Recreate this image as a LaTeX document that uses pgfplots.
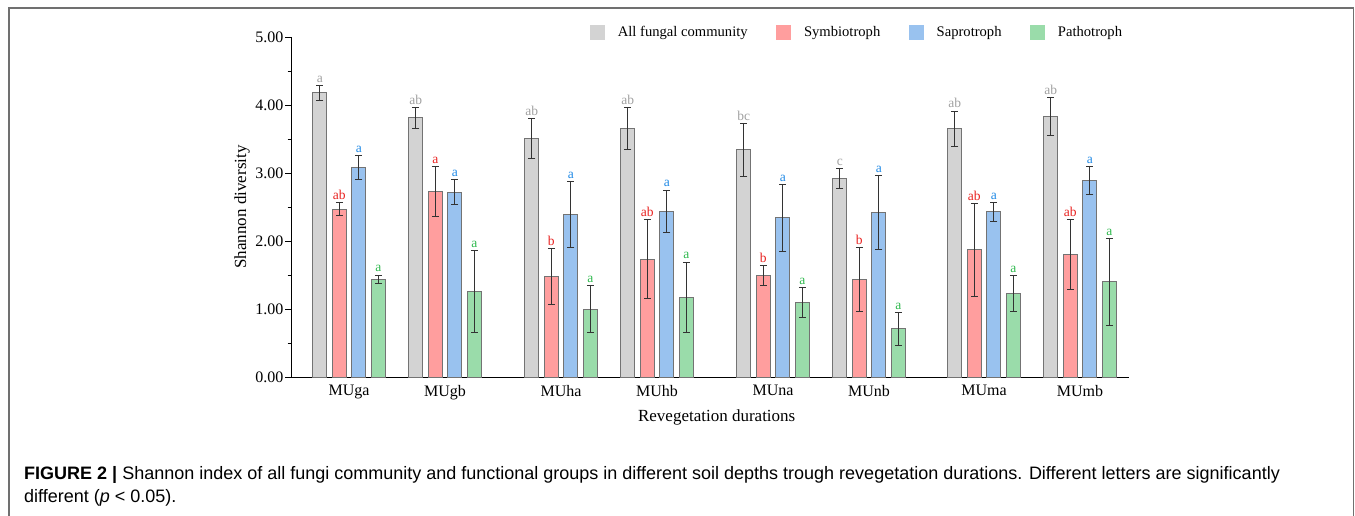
\documentclass[border=0pt]{standalone}
\usepackage{fontspec}
\setmainfont{Liberation Serif}
\newfontfamily\capfont{Liberation Sans}
\usepackage{pgfplots}
\usepackage{pgfplotstable}
\pgfplotsset{compat=1.18}
\definecolor{cgray}{HTML}{D3D3D3}
\definecolor{cred}{HTML}{FF9E9E}
\definecolor{cblue}{HTML}{99C2EF}
\definecolor{cgreen}{HTML}{9ADCAA}
\definecolor{tgray}{HTML}{A0A0A0}
\definecolor{tred}{HTML}{E8201E}
\definecolor{tblue}{HTML}{1E88E5}
\definecolor{tgreen}{HTML}{2DB84C}
\definecolor{framec}{HTML}{707070}

\pgfplotstableread{
x y e lab
349 4.18 0.11 a
445 3.81 0.15 ab
561 3.51 0.29 ab
657 3.65 0.31 ab
773 3.34 0.39 bc
869 2.92 0.15 c
984 3.65 0.26 ab
1080 3.83 0.28 ab
}\allfungal
\pgfplotstableread{
x y e lab
349 2.47 0.09 ab
445 2.73 0.37 a
561 1.48 0.41 b
657 1.73 0.58 ab
773 1.49 0.15 b
869 1.43 0.47 b
984 1.87 0.68 ab
1080 1.80 0.51 ab
}\symbio
\pgfplotstableread{
x y e lab
349 3.08 0.18 a
445 2.72 0.18 a
561 2.39 0.48 a
657 2.44 0.31 a
773 2.34 0.49 a
869 2.42 0.54 a
984 2.43 0.14 a
1080 2.89 0.21 a
}\sapro
\pgfplotstableread{
x y e lab
349 1.44 0.06 a
445 1.26 0.60 a
561 1.00 0.35 a
657 1.17 0.52 a
773 1.09 0.22 a
869 0.71 0.24 a
984 1.23 0.26 a
1080 1.40 0.64 a
}\patho

\pgfplotsset{
  letters/.style={
    nodes near coords, point meta=explicit symbolic,
    visualization depends on={\thisrow{e} \as \err},
    nodes near coords style={anchor=south, inner sep=0pt, yshift={\err*68pt+2.5pt}, text=#1, font=\fontsize{13.5}{15}\selectfont}
  }
}

\begin{document}
\begin{tikzpicture}[x=1pt,y=1pt]
\useasboundingbox (0,0) rectangle (1355,515);
\draw[color=framec, line width=1.5pt] (9,-2) -- (9,507) -- (1353.5,507) -- (1353.5,-2);
\begin{axis}[
  at={(291pt,138pt)}, anchor=south west,
  width=838pt, height=340pt, scale only axis,
  xmin=291, xmax=1129, ymin=0, ymax=5,
  ybar, bar width=14pt,
  axis lines*=left,
  axis line style={line width=1pt},
  clip=false,
  xtick={349,445,561,657,773,869,984,1080},
  xticklabels={MUga,MUgb,MUha,MUhb,MUna,MUnb,MUma,MUmb},
  xtick style={draw=none},
  ytick={0,1,2,3,4,5},
  minor y tick num=1,
  tick align=outside,
  major tick length=6pt,
  minor tick length=3.5pt,
  ytick style={line width=1pt, black},
  yticklabel style={/pgf/number format/fixed, /pgf/number format/fixed zerofill, /pgf/number format/precision=2, /pgf/number format/assume math mode=true, inner sep=1.5pt},
  ticklabel style={font=\fontsize{16}{19}\selectfont},
  xticklabel style={inner sep=0pt, yshift=-2pt},
  ylabel={Shannon diversity},
  xlabel={Revegetation durations},
  every axis y label/.style={at={(axis description cs:-0.0585,0.5)}, rotate=90, anchor=center, font=\fontsize{17}{20}\selectfont},
  every axis x label/.style={at={(axis description cs:0.508,-0.1176)}, anchor=center, font=\fontsize{17}{20}\selectfont},
  legend style={at={(axis description cs:0.3568,1.0147)}, anchor=west, draw=none, fill=none, inner sep=0pt, outer sep=0pt,
    legend columns=-1, font=\fontsize{14.6}{17}\selectfont,
    nodes={inner sep=0pt, outer sep=0pt},
    /tikz/every even column/.append style={column sep=28.5pt},
    /tikz/every odd column/.append style={column sep=13.5pt}},
  error bars/error bar style={line width=1pt, color=black!80},
  error bars/error mark options={line width=1pt, color=black!80, mark size=3.5pt, rotate=90},
]
\addlegendimage{legend image code/.code={\fill[cgray] (0pt,-7pt) rectangle (14pt,7pt);}}
\addlegendentry{All fungal community}
\addlegendimage{legend image code/.code={\fill[cred] (0pt,-7pt) rectangle (14pt,7pt);}}
\addlegendentry{Symbiotroph}
\addlegendimage{legend image code/.code={\fill[cblue] (0pt,-7pt) rectangle (14pt,7pt);}}
\addlegendentry{Saprotroph}
\addlegendimage{legend image code/.code={\fill[cgreen] (0pt,-7pt) rectangle (14pt,7pt);}}
\addlegendentry{Pathotroph}

\addplot[forget plot, bar shift=-29.25pt, fill=cgray, draw=black!55, line width=1pt, letters=tgray,
  error bars/.cd, y dir=both, y explicit] table[x=x, y=y, y error=e, meta=lab]{\allfungal};
\addplot[forget plot, bar shift=-9.75pt, fill=cred, draw=black!55, line width=1pt, letters=tred,
  error bars/.cd, y dir=both, y explicit] table[x=x, y=y, y error=e, meta=lab]{\symbio};
\addplot[forget plot, bar shift=9.75pt, fill=cblue, draw=black!55, line width=1pt, letters=tblue,
  error bars/.cd, y dir=both, y explicit] table[x=x, y=y, y error=e, meta=lab]{\sapro};
\addplot[forget plot, bar shift=29.25pt, fill=cgreen, draw=black!55, line width=1pt, letters=tgreen,
  error bars/.cd, y dir=both, y explicit] table[x=x, y=y, y error=e, meta=lab]{\patho};
\end{axis}
\node[anchor=base west, inner sep=0pt, font=\capfont\fontsize{18}{21}\selectfont] at (24,36)
  {\textbf{FIGURE 2 |} Shannon index of all fungi community and functional groups in different soil depths trough revegetation durations. Different letters are significantly};
\node[anchor=base west, inner sep=0pt, font=\capfont\fontsize{18}{21}\selectfont] at (24,13)
  {different (\textit{p} < 0.05).};
\end{tikzpicture}
\end{document}
